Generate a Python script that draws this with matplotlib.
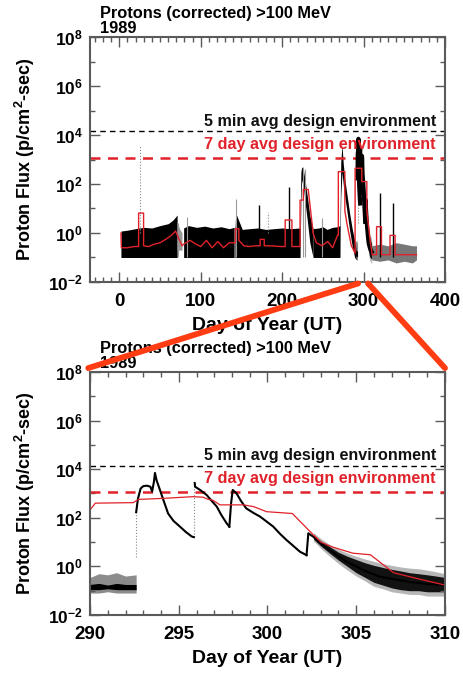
import numpy as np
import matplotlib.pyplot as plt
from matplotlib.patches import ConnectionPatch
from matplotlib.ticker import FixedLocator, FuncFormatter, MultipleLocator, NullFormatter

plt.rcParams['font.family'] = ['Liberation Sans', 'DejaVu Sans']
plt.rcParams['font.weight'] = 'bold'
plt.rcParams['mathtext.fontset'] = 'custom'
plt.rcParams['mathtext.rm'] = 'Liberation Sans:bold'
plt.rcParams['mathtext.it'] = 'Liberation Sans:bold'
plt.rcParams['mathtext.bf'] = 'Liberation Sans:bold'

RED = '#e0222a'
ZOOM = '#ff3c12'
SPINE = '#5a5a5a'

# design environment levels (p/cm^2-sec)
env_5min = 1.4e4
env_7day = 1.2e3

# ---------------- whole year 1989 ----------------
floor = 0.1  # quiet-time floor of the >100 MeV channel

# quiet stretches: day, top of the noise band
seg_a_day = [2, 10, 20, 30, 40, 50, 60, 66, 71]
seg_a_hi = [1.2, 1.3, 1.5, 1.7, 1.6, 2.0, 2.4, 3.4, 5.4]
seg_b_day = [79, 85, 95, 105, 115, 125, 135, 141]
seg_b_hi = [1.6, 2.0, 1.7, 1.9, 1.6, 1.8, 1.5, 1.7]
seg_c_day = [142, 143, 147, 151, 160, 170, 180, 190, 200, 210, 222]
seg_c_hi = [1.2, 6.5, 3.0, 1.4, 1.5, 1.6, 1.4, 1.5, 1.6, 1.5, 1.6]
seg_e_day = [238, 245, 250, 255, 262, 268, 271]
seg_e_hi = [1.5, 1.6, 1.8, 1.4, 1.7, 1.8, 2.0]
gap_day = [71, 74, 77]
gap_hi = [3.0, 1.5, 1.0]
late_day = [310, 320, 330, 340, 350, 360, 365]
late_hi = [0.3, 0.35, 0.3, 0.4, 0.35, 0.3, 0.3]
late_lo = [0.08, 0.07, 0.08, 0.06, 0.07, 0.06, 0.08]

# solar particle events: day, band top, band bottom
evt_d_day = [222, 223, 224, 226, 228, 231, 234, 238]
evt_d_hi = [1.5, 300, 500, 400, 150, 30, 5, 1.5]
evt_d_lo = [0.1, 20, 150, 80, 20, 3, 0.4, 0.1]
evt_f_day = [271, 272, 273.5, 275, 277, 280, 283, 286, 289, 291.5]
evt_f_hi = [2, 800, 4000, 700, 150, 30, 6, 1.5, 0.5, 0.2]
evt_f_lo = [0.1, 30, 300, 100, 30, 6, 1.2, 0.3, 0.1, 0.08]

# isolated spikes
spike_blk_day = [171, 207.8, 320, 336]
spike_blk_top = [14, 78, 43, 16]
spike_gry_day = [83, 143, 248.7, 72, 225, 228]
spike_gry_top = [4.7, 25, 4, 2.5, 500, 400]
spike_dot_day = [25.8, 182.4]
spike_dot_top = [4000, 7.4]

# 7 day average over the year
red_day = [2, 2.5, 10, 18, 23.7, 23.7, 29.8, 29.8, 36, 43, 50, 57, 64, 69, 73,
           77, 79, 87, 94, 100, 107, 114, 121, 128, 135, 142.7, 142.7, 146.8,
           146.8, 153, 160, 167, 173, 173, 178, 178, 185, 198, 203.7, 203.7,
           212, 212, 222, 222, 226, 226, 232, 235, 238, 242, 249, 256, 262,
           268, 269, 269, 277, 277, 280, 285, 289.6, 289.6, 297.8, 297.8, 304,
           304, 308, 310.6, 316, 316, 322, 322, 332.5, 332.5, 338.7, 338.7, 365]
red_val = [1.0, 0.25, 0.25, 0.28, 0.28, 6.5, 6.5, 0.3, 0.28, 0.35, 0.4, 0.55,
           0.8, 1.2, 0.6, 0.3, 0.35, 0.5, 0.35, 0.28, 0.5, 0.25, 0.45, 0.25,
           0.4, 0.4, 1.5, 1.5, 0.5, 0.3, 0.28, 0.3, 0.3, 0.55, 0.55, 0.3, 0.3,
           0.28, 0.28, 3.4, 3.4, 0.28, 0.28, 22, 22, 60, 60, 8, 1.0, 0.4, 0.3,
           0.45, 0.25, 0.8, 0.8, 320, 320, 8, 2, 0.3, 0.15, 440, 440, 125, 125,
           8, 0.5, 0.13, 0.13, 1.8, 1.8, 0.13, 0.13, 0.8, 0.8, 0.13, 0.13]

# ---------------- days 290-310 in detail ----------------
pre_day = [290.0, 290.5, 291.0, 291.5, 292.0, 292.6]
pre_hi = [0.35, 0.5, 0.45, 0.55, 0.4, 0.45]
pre_lo = [0.08, 0.08, 0.09, 0.08, 0.08, 0.08]
pre_core_hi = [0.18, 0.2, 0.17, 0.2, 0.18, 0.18]
pre_core_lo = [0.11, 0.11, 0.12, 0.11, 0.11, 0.11]

det1_day = [292.6, 292.7, 292.85, 293.0, 293.2, 293.4, 293.5, 293.6, 293.66,
            293.75, 293.94, 294.15, 294.4, 294.7, 295.07, 295.4, 295.73, 295.85]
det1_flux = [170, 600, 1600, 2000, 2100, 1900, 1200, 3000, 7000, 3500, 1400,
             500, 150, 75, 43, 26, 17, 16]
det2_day = [295.9, 295.92, 296.2, 296.57, 296.85, 297.14, 297.4, 297.7, 297.85]
det2_flux = [2700, 1900, 1400, 870, 500, 290, 130, 59, 43]
det3_day = [297.85, 297.95, 298.04, 298.26, 298.5, 298.8, 299.2, 299.58,
            299.95, 300.33, 300.7, 301.08, 301.45, 301.83, 302.2]
det3_flux = [43, 400, 1400, 1000, 500, 245, 160, 112, 70, 43, 22, 12, 7, 4, 2.9]
det4_day = [302.2, 302.3, 302.58, 303.0, 303.5, 304.0, 304.46, 305.0, 305.4,
            306.3, 307.3, 308.2, 309.0, 310.0]
det4_flux = [2.9, 23, 16.6, 9, 4.7, 2.6, 1.55, 1.0, 0.7, 0.38, 0.28, 0.22,
             0.19, 0.17]

# onsets recorded as sparse points
jump_day = [292.6, 295.88]
jump_lo = [2.5, 16]
jump_hi = [170, 2700]

tail_day = [302.6, 303.0, 303.5, 304.0, 304.5, 305.0, 305.5, 306.0, 306.5,
            307.0, 307.5, 308.0, 308.5, 309.0, 309.5, 310.0]
tail_hi = [20, 11, 6.5, 3.8, 2.6, 1.9, 1.4, 1.1, 0.9, 0.75, 0.65, 0.55, 0.5,
           0.45, 0.4, 0.35]
tail_lo = [13, 7, 3.5, 1.8, 1.0, 0.55, 0.35, 0.22, 0.17, 0.13, 0.11, 0.1,
           0.1, 0.09, 0.09, 0.09]
tail_out_hi = [24, 14, 8, 5, 3.5, 2.6, 2.0, 1.6, 1.3, 1.1, 0.95, 0.85, 0.8,
               0.7, 0.6, 0.5]
tail_out_lo = [11, 5.5, 2.6, 1.3, 0.7, 0.4, 0.25, 0.15, 0.12, 0.09, 0.08,
               0.07, 0.07, 0.06, 0.06, 0.06]

red_det_day = [290.0, 290.3, 292.44, 292.72, 294.13, 295.82, 296.38, 296.66,
               296.9, 297.32, 298.63, 299.2, 299.95, 301.4, 302.4, 303.0,
               303.6, 304.8, 305.8, 307.1, 308.4, 310.0]
red_det_flux = [210, 400, 420, 570, 630, 740, 700, 570, 540, 340, 340, 290,
                178, 150, 27, 10, 6.5, 3.5, 3.0, 0.55, 0.32, 0.17]


fig = plt.figure(figsize=(4.63, 6.73), dpi=100)
ax1 = fig.add_axes([0.1944, 0.5810, 0.7667, 0.3640])
ax2 = fig.add_axes([0.1944, 0.0862, 0.7667, 0.3611])


def decade_label(v, pos):
    return r'$10^{%d}$' % int(round(np.log10(v)))


def style_axes(ax):
    ax.set_yscale('log')
    ax.set_ylim(1e-2, 1e8)
    ax.yaxis.set_major_locator(FixedLocator([1e-2, 1, 1e2, 1e4, 1e6, 1e8]))
    ax.yaxis.set_minor_locator(FixedLocator([1e-1, 1e1, 1e3, 1e5, 1e7]))
    ax.yaxis.set_major_formatter(FuncFormatter(decade_label))
    ax.yaxis.set_minor_formatter(NullFormatter())
    ax.tick_params(which='both', direction='in', top=True, right=True,
                   color=SPINE, width=1.0)
    ax.tick_params(which='major', length=7)
    ax.tick_params(which='minor', length=3.5)
    ax.tick_params(axis='x', labelsize=13.5, pad=8)
    ax.tick_params(axis='y', labelsize=12.5, pad=5)
    for s in ax.spines.values():
        s.set_color(SPINE)
        s.set_linewidth(1.5)
    ax.axhline(env_5min, color='black', lw=1.0, ls=(0, (4, 3)))
    ax.axhline(env_7day, color=RED, lw=1.8, ls=(0, (4, 3)))
    ax.text(0.975, 2.4e4, '5 min avg design environment', ha='right',
            va='baseline', fontsize=11.6, fontweight='bold', color='#111111',
            transform=ax.get_yaxis_transform())
    ax.text(0.975, 2.8e3, '7 day avg design environment', ha='right',
            va='baseline', fontsize=11.6, fontweight='bold', color=RED,
            transform=ax.get_yaxis_transform())
    ax.text(0.028, 1.078, 'Protons (corrected) >100 MeV', transform=ax.transAxes,
            fontsize=11.8, fontweight='bold', va='baseline')
    ax.text(0.028, 1.018, '1989', transform=ax.transAxes,
            fontsize=11.8, fontweight='bold', va='baseline')
    ax.set_ylabel(r'Proton Flux (p/cm$^{2}$-sec)', fontsize=13, fontweight='bold')
    ax.yaxis.set_label_coords(-0.15, 0.5)
    ax.set_xlabel('Day of Year (UT)', fontsize=14, fontweight='bold', labelpad=5)


def detail(ax, lw):
    ax.fill_between(pre_day, pre_lo, pre_hi, color='#666666', lw=0, alpha=0.75)
    ax.fill_between(pre_day, pre_core_lo, pre_core_hi, color='black', lw=0)
    ax.vlines(jump_day, jump_lo, jump_hi, color='#888888', lw=0.8, ls=':')
    for d, f in [(det1_day, det1_flux), (det2_day, det2_flux),
                 (det3_day, det3_flux), (det4_day, det4_flux)]:
        ax.plot(d, f, color='black', lw=lw)
    ax.fill_between(tail_day, tail_out_lo, tail_out_hi, color='#888888', lw=0,
                    alpha=0.6)
    ax.fill_between(tail_day, tail_lo, tail_hi, color='black', lw=0, alpha=0.9)


# top panel: whole year
style_axes(ax1)
ax1.set_xlim(-36, 400)
ax1.xaxis.set_major_locator(MultipleLocator(100))
ax1.xaxis.set_minor_locator(MultipleLocator(10))

for d, h in [(seg_a_day, seg_a_hi), (seg_b_day, seg_b_hi),
             (seg_c_day, seg_c_hi), (seg_e_day, seg_e_hi)]:
    ax1.fill_between(d, floor, h, color='black', lw=0)
ax1.fill_between(gap_day, 0.2, gap_hi, color='#999999', lw=0)
ax1.fill_between(late_day, late_lo, late_hi, color='#555555', lw=0, alpha=0.8)
ax1.fill_between(evt_d_day, evt_d_lo, evt_d_hi, color='black', lw=0)
ax1.fill_between(evt_f_day, evt_f_lo, evt_f_hi, color='black', lw=0)
detail(ax1, 3.0)
ax1.vlines(spike_gry_day, floor, spike_gry_top, color='#9a9a9a', lw=0.8)
ax1.vlines(spike_dot_day, 1.0, spike_dot_top, color='#888888', lw=0.8, ls=':')
ax1.vlines(spike_blk_day, floor, spike_blk_top, color='black', lw=1.0)
ax1.plot(red_day, red_val, color=RED, lw=1.0)

# bottom panel: days 290-310
style_axes(ax2)
ax2.set_xlim(290, 310)
ax2.xaxis.set_major_locator(MultipleLocator(5))
ax2.xaxis.set_minor_locator(MultipleLocator(1))
detail(ax2, 1.5)
ax2.plot(red_det_day, red_det_flux, color=RED, lw=0.9)

# zoom connectors
for xa, xb in [(293.3, -0.005), (305.5, 1.0)]:
    con = ConnectionPatch(xyA=(xa, -0.006), coordsA=ax1.get_xaxis_transform(),
                          xyB=(xb, 1.016), coordsB=ax2.transAxes,
                          color=ZOOM, lw=4.2, zorder=10)
    fig.add_artist(con)

fig.savefig('out.png', dpi=100)
